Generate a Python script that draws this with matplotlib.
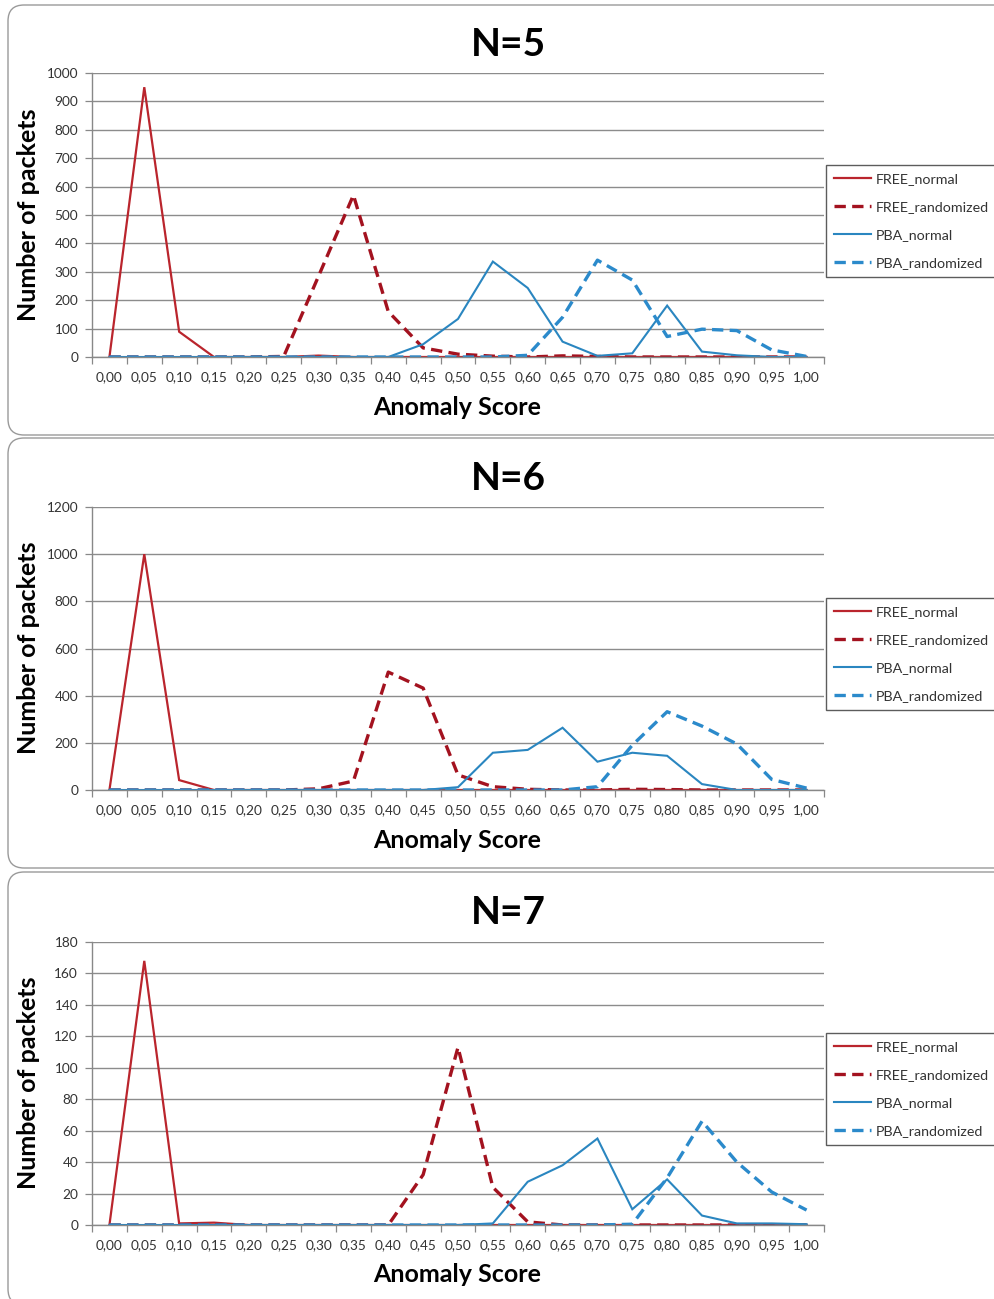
import matplotlib
matplotlib.use("Agg")
import matplotlib.pyplot as plt
from matplotlib.patches import FancyBboxPatch
import numpy as np

plt.rcParams['font.family'] = ['Lato', 'DejaVu Sans']

scores = ["0,00", "0,05", "0,10", "0,15", "0,20", "0,25", "0,30", "0,35", "0,40", "0,45", "0,50",
          "0,55", "0,60", "0,65", "0,70", "0,75", "0,80", "0,85", "0,90", "0,95", "1,00"]

# N=5
n5_free_normal = [0, 950, 89, 0, 0, 0, 5, 0, 0, 0, 0, 0, 0, 0, 0, 0, 0, 0, 0, 0, 0]
n5_free_random = [0, 0, 0, 0, 0, 2, 285, 570, 160, 32, 10, 3, 0, 4, 2, 0, 0, 0, 0, 0, 0]
n5_pba_normal = [0, 0, 0, 0, 0, 0, 0, 0, 0, 45, 134, 336, 243, 54, 4, 13, 181, 19, 6, 0, 0]
n5_pba_random = [0, 0, 0, 0, 0, 0, 0, 0, 0, 0, 0, 0, 6, 140, 341, 271, 72, 98, 93, 25, 2]

# N=6
n6_free_normal = [0, 1000, 42, 0, 0, 0, 0, 0, 0, 0, 0, 0, 0, 0, 0, 0, 0, 0, 0, 0, 0]
n6_free_random = [0, 0, 0, 0, 0, 0, 5, 38, 500, 432, 64, 14, 3, 0, 0, 3, 2, 0, 0, 0, 0]
n6_pba_normal = [0, 0, 0, 0, 0, 0, 0, 0, 0, 0, 12, 158, 170, 264, 120, 158, 145, 25, 0, 0, 0]
n6_pba_random = [0, 0, 0, 0, 0, 0, 0, 0, 0, 0, 0, 0, 0, 0, 14, 190, 332, 271, 195, 45, 8]

# N=7
n7_free_normal = [0, 168, 1, 1.5, 0, 0, 0, 0, 0, 0, 0, 0, 0, 0, 0, 0, 0, 0, 0, 0, 0]
n7_free_random = [0, 0, 0, 0, 0, 0, 0, 0, 0, 32, 113, 24, 2, 0, 0, 0, 0, 0, 0, 0, 0]
n7_pba_normal = [0, 0, 0, 0, 0, 0, 0, 0, 0, 0, 0, 1, 27.5, 38, 55, 10, 29, 6, 1, 1, 0.5]
n7_pba_random = [0, 0, 0, 0, 0, 0, 0, 0, 0, 0, 0, 0, 0, 0, 0, 0.5, 30, 66, 40, 21, 9.5]

series_names = ["FREE_normal", "FREE_randomized", "PBA_normal", "PBA_randomized"]
titles = ["N=5", "N=6", "N=7"]
ymax = [1000, 1200, 180]
ystep = [100, 200, 20]

panels = [
    [n5_free_normal, n5_free_random, n5_pba_normal, n5_pba_random],
    [n6_free_normal, n6_free_random, n6_pba_normal, n6_pba_random],
    [n7_free_normal, n7_free_random, n7_pba_normal, n7_pba_random],
]

styles = [
    dict(color='#BA252D', lw=1.6, ls='-'),
    dict(color='#A3121F', lw=2.4, ls=(0, (3.4, 1.9))),
    dict(color='#2A86C0', lw=1.5, ls='-'),
    dict(color='#2B8ACB', lw=2.4, ls=(0, (3.4, 1.9))),
]

W, H = 995, 1299
fig = plt.figure(figsize=(W / 100, H / 100), dpi=100)

# panel frames (pixel coords: top, bottom)
frames = [(5, 435), (438, 868), (872, 1305)]
for top, bot in frames:
    box = FancyBboxPatch((8 / 100, (H - bot) / 100), (1010 - 8) / 100, (bot - top) / 100,
                         boxstyle="round,pad=0,rounding_size=0.16",
                         transform=fig.dpi_scale_trans, facecolor='white',
                         edgecolor='#9A9A9A', lw=1.0, zorder=-10)
    fig.patches.append(box)

# axes geometry in pixels: (top, bottom)
ax_pix = [(73, 357), (507, 790), (942, 1225)]
title_y = [45, 478, 912]
legend_top = [165, 598, 1033]
xlabel_y = [407, 840, 1275]
ylabel_y = [215, 648, 1083]

x = np.arange(len(scores))
for i in range(3):
    top, bot = ax_pix[i]
    ax = fig.add_axes([92 / W, 1 - bot / H, 732 / W, (bot - top) / H])
    ax.set_facecolor('none')
    for s, st in zip(panels[i], styles):
        ax.plot(x, s, **st, solid_joinstyle='miter', dash_capstyle='butt')
    ax.set_xlim(-0.5, len(scores) - 0.5)
    ax.set_ylim(0, ymax[i])
    ax.set_yticks(np.arange(0, ymax[i] + 1, ystep[i]))
    ax.set_xticks(x)
    ax.set_xticklabels(scores)
    ax.set_xticks(np.arange(-0.5, len(scores), 1.0), minor=True)
    ax.tick_params(axis='x', which='major', length=0, pad=10, labelsize=9.8, labelcolor='#333333')
    ax.tick_params(axis='x', which='minor', length=5, width=0.9, color='#888888', direction='out')
    ax.tick_params(axis='y', which='major', length=5, width=0.9, color='#888888', direction='out',
                   labelsize=9.8, labelcolor='#333333', pad=5)
    ax.grid(axis='y', color='#8C8C8C', lw=1.0)
    ax.set_axisbelow(True)
    for sp in ['top', 'right']:
        ax.spines[sp].set_visible(False)
    for sp in ['left', 'bottom']:
        ax.spines[sp].set_color('#888888')
        ax.spines[sp].set_linewidth(1.0)

    fig.text(508 / W, 1 - title_y[i] / H, titles[i], ha='center', va='center',
             fontsize=28, fontweight='bold')
    fig.text(457 / W, 1 - xlabel_y[i] / H, "Anomaly Score", ha='center', va='center',
             fontsize=18, fontweight='bold')
    fig.text(29 / W, 1 - ylabel_y[i] / H, "Number of packets", ha='center', va='center',
             fontsize=18, fontweight='bold', rotation=90)

    handles = ax.get_lines()
    leg = fig.legend(handles, series_names, loc='upper left',
                     bbox_to_anchor=(826 / W, 1 - legend_top[i] / H),
                     bbox_transform=fig.transFigure, borderaxespad=0,
                     fontsize=10.3, frameon=True, fancybox=False, edgecolor='#333333',
                     handlelength=2.6, handletextpad=0.35, labelspacing=1.12,
                     borderpad=0.55)
    leg.get_frame().set_linewidth(1.0)
    for t in leg.get_texts():
        t.set_color('#333333')

fig.savefig("out.png", dpi=100, facecolor='white')
